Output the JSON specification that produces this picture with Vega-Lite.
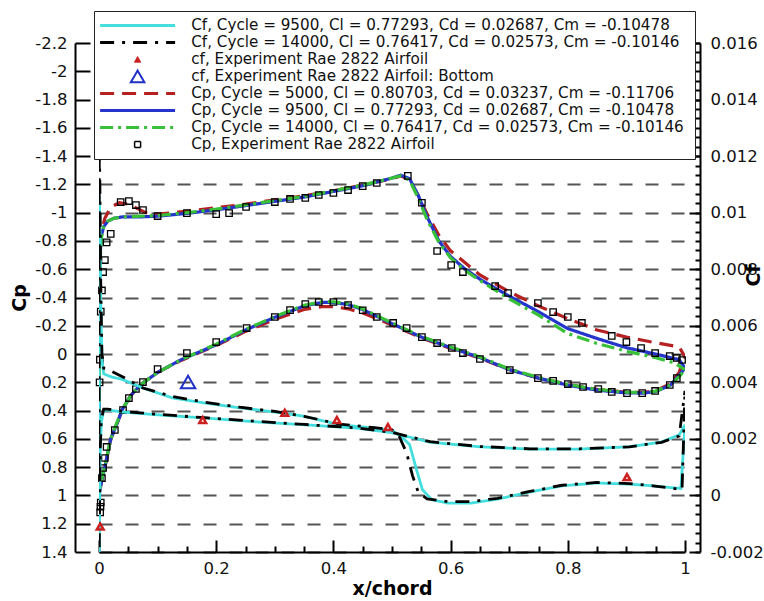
{
  "$schema": "https://vega.github.io/schema/vega-lite/v6.json",
  "width": 586,
  "height": 509,
  "autosize": {"type": "none"},
  "padding": {"left": 99, "top": 43, "right": 79, "bottom": 49},
  "background": "white",
  "config": {
    "font": "DejaVu Sans",
    "view": {"stroke": null},
    "axis": {
      "domainColor": "#000", "domainWidth": 2, "tickColor": "#000", "tickWidth": 2,
      "labelColor": "#111", "labelFont": "DejaVu Sans", "labelFontSize": 16.5,
      "titleFont": "DejaVu Sans", "titleFontSize": 19, "titleFontWeight": "bold", "titleColor": "#000",
      "grid": false, "labelOverlap": false, "labelFlush": false, "labelBound": false
    },
    "legend": {
      "orient": "none", "legendX": -5, "legendY": -32, "direction": "vertical", "columns": 1,
      "padding": 6, "fillColor": "#ffffff", "strokeColor": "#222222",
      "labelFont": "DejaVu Sans", "labelFontSize": 15.2, "labelColor": "#111", "labelLimit": 700,
      "labelOffset": 46, "symbolSize": 5625, "symbolStrokeWidth": 3, "symbolOffset": 30,
      "rowPadding": 0, "clipHeight": 16.8, "symbolOpacity": 1
    }
  },
  "datasets": {
    "cpl": [
      {"s":"cp5000","u":"U","x":0,"v":1.1},{"s":"cp5000","u":"U","x":0.0005,"v":0.3},{"s":"cp5000","u":"U","x":0.001,"v":-0.35},{"s":"cp5000","u":"U","x":0.002,"v":-0.72},{"s":"cp5000","u":"U","x":0.005,"v":-0.88},{"s":"cp5000","u":"U","x":0.01,"v":-0.96},{"s":"cp5000","u":"U","x":0.02,"v":-1.04},{"s":"cp5000","u":"U","x":0.035,"v":-1.07},{"s":"cp5000","u":"U","x":0.05,"v":-1.06},{"s":"cp5000","u":"U","x":0.065,"v":-1.03},{"s":"cp5000","u":"U","x":0.08,"v":-1.0},{"s":"cp5000","u":"U","x":0.1,"v":-0.99},{"s":"cp5000","u":"U","x":0.15,"v":-1.01},{"s":"cp5000","u":"U","x":0.2,"v":-1.035},{"s":"cp5000","u":"U","x":0.25,"v":-1.06},{"s":"cp5000","u":"U","x":0.3,"v":-1.09},{"s":"cp5000","u":"U","x":0.35,"v":-1.12},{"s":"cp5000","u":"U","x":0.4,"v":-1.155},{"s":"cp5000","u":"U","x":0.45,"v":-1.195},{"s":"cp5000","u":"U","x":0.5,"v":-1.24},{"s":"cp5000","u":"U","x":0.515,"v":-1.26},{"s":"cp5000","u":"U","x":0.53,"v":-1.23},{"s":"cp5000","u":"U","x":0.545,"v":-1.12},{"s":"cp5000","u":"U","x":0.56,"v":-0.99},{"s":"cp5000","u":"U","x":0.58,"v":-0.84},{"s":"cp5000","u":"U","x":0.6,"v":-0.73},{"s":"cp5000","u":"U","x":0.65,"v":-0.56},{"s":"cp5000","u":"U","x":0.7,"v":-0.44},{"s":"cp5000","u":"U","x":0.75,"v":-0.34},{"s":"cp5000","u":"U","x":0.8,"v":-0.25},{"s":"cp5000","u":"U","x":0.85,"v":-0.17},{"s":"cp5000","u":"U","x":0.9,"v":-0.12},{"s":"cp5000","u":"U","x":0.95,"v":-0.08},{"s":"cp5000","u":"U","x":0.99,"v":-0.05},{"s":"cp5000","u":"U","x":1.0,"v":0.02},
      {"s":"cp5000","u":"L","x":0,"v":1.1},{"s":"cp5000","u":"L","x":0.001,"v":0.99},{"s":"cp5000","u":"L","x":0.003,"v":0.93},{"s":"cp5000","u":"L","x":0.006,"v":0.87},{"s":"cp5000","u":"L","x":0.01,"v":0.8},{"s":"cp5000","u":"L","x":0.02,"v":0.6},{"s":"cp5000","u":"L","x":0.03,"v":0.5},{"s":"cp5000","u":"L","x":0.04,"v":0.39},{"s":"cp5000","u":"L","x":0.055,"v":0.29},{"s":"cp5000","u":"L","x":0.07,"v":0.22},{"s":"cp5000","u":"L","x":0.1,"v":0.13},{"s":"cp5000","u":"L","x":0.14,"v":0.045},{"s":"cp5000","u":"L","x":0.2,"v":-0.06},{"s":"cp5000","u":"L","x":0.25,"v":-0.16},{"s":"cp5000","u":"L","x":0.3,"v":-0.245},{"s":"cp5000","u":"L","x":0.35,"v":-0.315},{"s":"cp5000","u":"L","x":0.38,"v":-0.335},{"s":"cp5000","u":"L","x":0.4,"v":-0.335},{"s":"cp5000","u":"L","x":0.425,"v":-0.32},{"s":"cp5000","u":"L","x":0.45,"v":-0.29},{"s":"cp5000","u":"L","x":0.475,"v":-0.25},{"s":"cp5000","u":"L","x":0.5,"v":-0.205},{"s":"cp5000","u":"L","x":0.55,"v":-0.115},{"s":"cp5000","u":"L","x":0.6,"v":-0.04},{"s":"cp5000","u":"L","x":0.65,"v":0.03},{"s":"cp5000","u":"L","x":0.7,"v":0.11},{"s":"cp5000","u":"L","x":0.75,"v":0.17},{"s":"cp5000","u":"L","x":0.8,"v":0.215},{"s":"cp5000","u":"L","x":0.85,"v":0.25},{"s":"cp5000","u":"L","x":0.9,"v":0.27},{"s":"cp5000","u":"L","x":0.93,"v":0.27},{"s":"cp5000","u":"L","x":0.95,"v":0.26},{"s":"cp5000","u":"L","x":0.975,"v":0.21},{"s":"cp5000","u":"L","x":0.99,"v":0.13},{"s":"cp5000","u":"L","x":1.0,"v":0.02},
      {"s":"cp9500","u":"U","x":0,"v":1.08},{"s":"cp9500","u":"U","x":0.0005,"v":0.3},{"s":"cp9500","u":"U","x":0.001,"v":-0.35},{"s":"cp9500","u":"U","x":0.002,"v":-0.7},{"s":"cp9500","u":"U","x":0.004,"v":-0.84},{"s":"cp9500","u":"U","x":0.008,"v":-0.9},{"s":"cp9500","u":"U","x":0.015,"v":-0.94},{"s":"cp9500","u":"U","x":0.025,"v":-0.96},{"s":"cp9500","u":"U","x":0.04,"v":-0.97},{"s":"cp9500","u":"U","x":0.07,"v":-0.97},{"s":"cp9500","u":"U","x":0.1,"v":-0.975},{"s":"cp9500","u":"U","x":0.15,"v":-0.995},{"s":"cp9500","u":"U","x":0.2,"v":-1.02},{"s":"cp9500","u":"U","x":0.25,"v":-1.05},{"s":"cp9500","u":"U","x":0.3,"v":-1.08},{"s":"cp9500","u":"U","x":0.35,"v":-1.11},{"s":"cp9500","u":"U","x":0.4,"v":-1.15},{"s":"cp9500","u":"U","x":0.45,"v":-1.19},{"s":"cp9500","u":"U","x":0.5,"v":-1.245},{"s":"cp9500","u":"U","x":0.515,"v":-1.265},{"s":"cp9500","u":"U","x":0.53,"v":-1.24},{"s":"cp9500","u":"U","x":0.545,"v":-1.12},{"s":"cp9500","u":"U","x":0.56,"v":-0.97},{"s":"cp9500","u":"U","x":0.58,"v":-0.8},{"s":"cp9500","u":"U","x":0.6,"v":-0.69},{"s":"cp9500","u":"U","x":0.625,"v":-0.6},{"s":"cp9500","u":"U","x":0.65,"v":-0.53},{"s":"cp9500","u":"U","x":0.7,"v":-0.41},{"s":"cp9500","u":"U","x":0.75,"v":-0.3},{"s":"cp9500","u":"U","x":0.8,"v":-0.18},{"s":"cp9500","u":"U","x":0.85,"v":-0.11},{"s":"cp9500","u":"U","x":0.9,"v":-0.045},{"s":"cp9500","u":"U","x":0.95,"v":0.0},{"s":"cp9500","u":"U","x":0.99,"v":0.04},{"s":"cp9500","u":"U","x":1.0,"v":0.1},
      {"s":"cp9500","u":"L","x":0,"v":1.08},{"s":"cp9500","u":"L","x":0.001,"v":0.98},{"s":"cp9500","u":"L","x":0.003,"v":0.93},{"s":"cp9500","u":"L","x":0.006,"v":0.87},{"s":"cp9500","u":"L","x":0.01,"v":0.8},{"s":"cp9500","u":"L","x":0.02,"v":0.6},{"s":"cp9500","u":"L","x":0.03,"v":0.5},{"s":"cp9500","u":"L","x":0.04,"v":0.39},{"s":"cp9500","u":"L","x":0.055,"v":0.29},{"s":"cp9500","u":"L","x":0.07,"v":0.22},{"s":"cp9500","u":"L","x":0.1,"v":0.13},{"s":"cp9500","u":"L","x":0.14,"v":0.04},{"s":"cp9500","u":"L","x":0.2,"v":-0.065},{"s":"cp9500","u":"L","x":0.25,"v":-0.17},{"s":"cp9500","u":"L","x":0.3,"v":-0.26},{"s":"cp9500","u":"L","x":0.35,"v":-0.34},{"s":"cp9500","u":"L","x":0.38,"v":-0.365},{"s":"cp9500","u":"L","x":0.4,"v":-0.365},{"s":"cp9500","u":"L","x":0.425,"v":-0.35},{"s":"cp9500","u":"L","x":0.45,"v":-0.315},{"s":"cp9500","u":"L","x":0.475,"v":-0.265},{"s":"cp9500","u":"L","x":0.5,"v":-0.215},{"s":"cp9500","u":"L","x":0.55,"v":-0.12},{"s":"cp9500","u":"L","x":0.6,"v":-0.045},{"s":"cp9500","u":"L","x":0.65,"v":0.025},{"s":"cp9500","u":"L","x":0.7,"v":0.11},{"s":"cp9500","u":"L","x":0.75,"v":0.17},{"s":"cp9500","u":"L","x":0.8,"v":0.22},{"s":"cp9500","u":"L","x":0.85,"v":0.255},{"s":"cp9500","u":"L","x":0.9,"v":0.275},{"s":"cp9500","u":"L","x":0.93,"v":0.276},{"s":"cp9500","u":"L","x":0.95,"v":0.265},{"s":"cp9500","u":"L","x":0.975,"v":0.22},{"s":"cp9500","u":"L","x":0.99,"v":0.15},{"s":"cp9500","u":"L","x":1.0,"v":0.1},
      {"s":"cp14000","u":"U","x":0,"v":1.08},{"s":"cp14000","u":"U","x":0.0005,"v":0.3},{"s":"cp14000","u":"U","x":0.001,"v":-0.3},{"s":"cp14000","u":"U","x":0.002,"v":-0.66},{"s":"cp14000","u":"U","x":0.004,"v":-0.82},{"s":"cp14000","u":"U","x":0.008,"v":-0.9},{"s":"cp14000","u":"U","x":0.015,"v":-0.94},{"s":"cp14000","u":"U","x":0.025,"v":-0.96},{"s":"cp14000","u":"U","x":0.04,"v":-0.97},{"s":"cp14000","u":"U","x":0.07,"v":-0.975},{"s":"cp14000","u":"U","x":0.1,"v":-0.98},{"s":"cp14000","u":"U","x":0.15,"v":-1.0},{"s":"cp14000","u":"U","x":0.2,"v":-1.025},{"s":"cp14000","u":"U","x":0.25,"v":-1.055},{"s":"cp14000","u":"U","x":0.3,"v":-1.085},{"s":"cp14000","u":"U","x":0.35,"v":-1.115},{"s":"cp14000","u":"U","x":0.4,"v":-1.155},{"s":"cp14000","u":"U","x":0.45,"v":-1.195},{"s":"cp14000","u":"U","x":0.5,"v":-1.245},{"s":"cp14000","u":"U","x":0.515,"v":-1.26},{"s":"cp14000","u":"U","x":0.53,"v":-1.23},{"s":"cp14000","u":"U","x":0.545,"v":-1.1},{"s":"cp14000","u":"U","x":0.56,"v":-0.95},{"s":"cp14000","u":"U","x":0.58,"v":-0.79},{"s":"cp14000","u":"U","x":0.6,"v":-0.68},{"s":"cp14000","u":"U","x":0.625,"v":-0.59},{"s":"cp14000","u":"U","x":0.65,"v":-0.52},{"s":"cp14000","u":"U","x":0.7,"v":-0.39},{"s":"cp14000","u":"U","x":0.75,"v":-0.275},{"s":"cp14000","u":"U","x":0.8,"v":-0.145},{"s":"cp14000","u":"U","x":0.85,"v":-0.075},{"s":"cp14000","u":"U","x":0.9,"v":-0.02},{"s":"cp14000","u":"U","x":0.95,"v":0.025},{"s":"cp14000","u":"U","x":0.98,"v":0.06},{"s":"cp14000","u":"U","x":1.0,"v":0.11},
      {"s":"cp14000","u":"L","x":0,"v":1.08},{"s":"cp14000","u":"L","x":0.001,"v":0.97},{"s":"cp14000","u":"L","x":0.003,"v":0.92},{"s":"cp14000","u":"L","x":0.006,"v":0.86},{"s":"cp14000","u":"L","x":0.01,"v":0.79},{"s":"cp14000","u":"L","x":0.02,"v":0.6},{"s":"cp14000","u":"L","x":0.03,"v":0.49},{"s":"cp14000","u":"L","x":0.04,"v":0.39},{"s":"cp14000","u":"L","x":0.055,"v":0.29},{"s":"cp14000","u":"L","x":0.07,"v":0.22},{"s":"cp14000","u":"L","x":0.1,"v":0.13},{"s":"cp14000","u":"L","x":0.14,"v":0.04},{"s":"cp14000","u":"L","x":0.2,"v":-0.07},{"s":"cp14000","u":"L","x":0.25,"v":-0.175},{"s":"cp14000","u":"L","x":0.3,"v":-0.265},{"s":"cp14000","u":"L","x":0.35,"v":-0.345},{"s":"cp14000","u":"L","x":0.38,"v":-0.37},{"s":"cp14000","u":"L","x":0.4,"v":-0.37},{"s":"cp14000","u":"L","x":0.425,"v":-0.355},{"s":"cp14000","u":"L","x":0.45,"v":-0.32},{"s":"cp14000","u":"L","x":0.475,"v":-0.27},{"s":"cp14000","u":"L","x":0.5,"v":-0.22},{"s":"cp14000","u":"L","x":0.55,"v":-0.125},{"s":"cp14000","u":"L","x":0.6,"v":-0.05},{"s":"cp14000","u":"L","x":0.65,"v":0.02},{"s":"cp14000","u":"L","x":0.7,"v":0.105},{"s":"cp14000","u":"L","x":0.75,"v":0.165},{"s":"cp14000","u":"L","x":0.8,"v":0.215},{"s":"cp14000","u":"L","x":0.85,"v":0.25},{"s":"cp14000","u":"L","x":0.9,"v":0.27},{"s":"cp14000","u":"L","x":0.93,"v":0.272},{"s":"cp14000","u":"L","x":0.95,"v":0.262},{"s":"cp14000","u":"L","x":0.975,"v":0.22},{"s":"cp14000","u":"L","x":0.99,"v":0.16},{"s":"cp14000","u":"L","x":1.0,"v":0.11}
    ],
    "cpx": [
      {"s":"cpexp","x":0.001,"v":0.2},{"s":"cpexp","x":0.0015,"v":0.04},{"s":"cpexp","x":0.003,"v":-0.3},{"s":"cpexp","x":0.005,"v":-0.45},{"s":"cpexp","x":0.007,"v":-0.58},{"s":"cpexp","x":0.01,"v":-0.665},{"s":"cpexp","x":0.013,"v":-0.79},{"s":"cpexp","x":0.02,"v":-0.85},{"s":"cpexp","x":0.037,"v":-1.075},{"s":"cpexp","x":0.051,"v":-1.082},{"s":"cpexp","x":0.063,"v":-1.054},{"s":"cpexp","x":0.075,"v":-1.019},{"s":"cpexp","x":0.1,"v":-0.976},{"s":"cpexp","x":0.15,"v":-0.997},{"s":"cpexp","x":0.2,"v":-0.99},{"s":"cpexp","x":0.222,"v":-0.997},{"s":"cpexp","x":0.251,"v":-1.04},{"s":"cpexp","x":0.3,"v":-1.075},{"s":"cpexp","x":0.326,"v":-1.097},{"s":"cpexp","x":0.352,"v":-1.104},{"s":"cpexp","x":0.375,"v":-1.125},{"s":"cpexp","x":0.4,"v":-1.139},{"s":"cpexp","x":0.425,"v":-1.16},{"s":"cpexp","x":0.45,"v":-1.188},{"s":"cpexp","x":0.474,"v":-1.21},{"s":"cpexp","x":0.527,"v":-1.26},{"s":"cpexp","x":0.551,"v":-1.07},{"s":"cpexp","x":0.577,"v":-0.729},{"s":"cpexp","x":0.601,"v":-0.63},{"s":"cpexp","x":0.621,"v":-0.58},{"s":"cpexp","x":0.676,"v":-0.481},{"s":"cpexp","x":0.698,"v":-0.432},{"s":"cpexp","x":0.749,"v":-0.361},{"s":"cpexp","x":0.775,"v":-0.297},{"s":"cpexp","x":0.8,"v":-0.262},{"s":"cpexp","x":0.824,"v":-0.22},{"s":"cpexp","x":0.875,"v":-0.128},{"s":"cpexp","x":0.9,"v":-0.085},{"s":"cpexp","x":0.925,"v":-0.043},{"s":"cpexp","x":0.949,"v":-0.007},{"s":"cpexp","x":0.974,"v":0.014},{"s":"cpexp","x":0.986,"v":0.028},{"s":"cpexp","x":0.995,"v":0.042},
      {"s":"cpexp","x":0.002,"v":1.12},{"s":"cpexp","x":0.0025,"v":1.08},{"s":"cpexp","x":0.003,"v":1.05},{"s":"cpexp","x":0.005,"v":0.877},{"s":"cpexp","x":0.007,"v":0.806},{"s":"cpexp","x":0.01,"v":0.735},{"s":"cpexp","x":0.013,"v":0.657},{"s":"cpexp","x":0.027,"v":0.537},{"s":"cpexp","x":0.041,"v":0.396},{"s":"cpexp","x":0.051,"v":0.311},{"s":"cpexp","x":0.063,"v":0.247},{"s":"cpexp","x":0.075,"v":0.198},{"s":"cpexp","x":0.1,"v":0.106},{"s":"cpexp","x":0.15,"v":-0.007},{"s":"cpexp","x":0.2,"v":-0.085},{"s":"cpexp","x":0.252,"v":-0.184},{"s":"cpexp","x":0.3,"v":-0.262},{"s":"cpexp","x":0.326,"v":-0.311},{"s":"cpexp","x":0.352,"v":-0.354},{"s":"cpexp","x":0.375,"v":-0.368},{"s":"cpexp","x":0.4,"v":-0.368},{"s":"cpexp","x":0.425,"v":-0.347},{"s":"cpexp","x":0.45,"v":-0.31},{"s":"cpexp","x":0.474,"v":-0.262},{"s":"cpexp","x":0.502,"v":-0.22},{"s":"cpexp","x":0.525,"v":-0.184},{"s":"cpexp","x":0.551,"v":-0.12},{"s":"cpexp","x":0.577,"v":-0.078},{"s":"cpexp","x":0.602,"v":-0.043},{"s":"cpexp","x":0.621,"v":-0.007},{"s":"cpexp","x":0.65,"v":0.035},{"s":"cpexp","x":0.701,"v":0.113},{"s":"cpexp","x":0.749,"v":0.17},{"s":"cpexp","x":0.775,"v":0.19},{"s":"cpexp","x":0.8,"v":0.212},{"s":"cpexp","x":0.826,"v":0.233},{"s":"cpexp","x":0.852,"v":0.247},{"s":"cpexp","x":0.875,"v":0.268},{"s":"cpexp","x":0.901,"v":0.276},{"s":"cpexp","x":0.927,"v":0.276},{"s":"cpexp","x":0.949,"v":0.261},{"s":"cpexp","x":0.974,"v":0.219},{"s":"cpexp","x":0.986,"v":0.17}
    ],
    "cfl": [
      {"s":"cf9500","u":"A","x":0,"v":0.001},{"s":"cf9500","u":"A","x":0.0005,"v":0.0106},{"s":"cf9500","u":"A","x":0.0015,"v":0.0098},{"s":"cf9500","u":"A","x":0.003,"v":0.0068},{"s":"cf9500","u":"A","x":0.005,"v":0.0048},{"s":"cf9500","u":"A","x":0.008,"v":0.0043},{"s":"cf9500","u":"A","x":0.02,"v":0.0042},{"s":"cf9500","u":"A","x":0.04,"v":0.0041},{"s":"cf9500","u":"A","x":0.075,"v":0.0038},{"s":"cf9500","u":"A","x":0.125,"v":0.00345},{"s":"cf9500","u":"A","x":0.18,"v":0.00327},{"s":"cf9500","u":"A","x":0.24,"v":0.0031},{"s":"cf9500","u":"A","x":0.3,"v":0.00295},{"s":"cf9500","u":"A","x":0.35,"v":0.0028},{"s":"cf9500","u":"A","x":0.41,"v":0.0025},{"s":"cf9500","u":"A","x":0.47,"v":0.00238},{"s":"cf9500","u":"A","x":0.5,"v":0.0023},{"s":"cf9500","u":"A","x":0.515,"v":0.0021},{"s":"cf9500","u":"A","x":0.53,"v":0.0018},{"s":"cf9500","u":"A","x":0.542,"v":0.0009},{"s":"cf9500","u":"A","x":0.552,"v":0.0002},{"s":"cf9500","u":"A","x":0.568,"v":-0.00015},{"s":"cf9500","u":"A","x":0.595,"v":-0.00027},{"s":"cf9500","u":"A","x":0.635,"v":-0.00027},{"s":"cf9500","u":"A","x":0.68,"v":-0.00013},{"s":"cf9500","u":"A","x":0.735,"v":0.00012},{"s":"cf9500","u":"A","x":0.79,"v":0.00034},{"s":"cf9500","u":"A","x":0.85,"v":0.00044},{"s":"cf9500","u":"A","x":0.905,"v":0.0004},{"s":"cf9500","u":"A","x":0.945,"v":0.00034},{"s":"cf9500","u":"A","x":0.98,"v":0.00027},{"s":"cf9500","u":"A","x":0.993,"v":0.00025},{"s":"cf9500","u":"A","x":1.0,"v":0.0025},
      {"s":"cf9500","u":"B","x":0,"v":-0.003},{"s":"cf9500","u":"B","x":0.001,"v":-0.0005},{"s":"cf9500","u":"B","x":0.002,"v":0.0015},{"s":"cf9500","u":"B","x":0.004,"v":0.0026},{"s":"cf9500","u":"B","x":0.008,"v":0.003},{"s":"cf9500","u":"B","x":0.015,"v":0.00302},{"s":"cf9500","u":"B","x":0.04,"v":0.00295},{"s":"cf9500","u":"B","x":0.1,"v":0.00285},{"s":"cf9500","u":"B","x":0.18,"v":0.00274},{"s":"cf9500","u":"B","x":0.27,"v":0.0026},{"s":"cf9500","u":"B","x":0.35,"v":0.0025},{"s":"cf9500","u":"B","x":0.44,"v":0.00238},{"s":"cf9500","u":"B","x":0.5,"v":0.00222},{"s":"cf9500","u":"B","x":0.565,"v":0.00188},{"s":"cf9500","u":"B","x":0.65,"v":0.00172},{"s":"cf9500","u":"B","x":0.735,"v":0.00164},{"s":"cf9500","u":"B","x":0.82,"v":0.00164},{"s":"cf9500","u":"B","x":0.905,"v":0.00172},{"s":"cf9500","u":"B","x":0.96,"v":0.00189},{"s":"cf9500","u":"B","x":0.99,"v":0.00214},{"s":"cf9500","u":"B","x":1.0,"v":0.0025},
      {"s":"cf14000","u":"A","x":0,"v":0.001},{"s":"cf14000","u":"A","x":0.0005,"v":0.0125},{"s":"cf14000","u":"A","x":0.0015,"v":0.011},{"s":"cf14000","u":"A","x":0.003,"v":0.0075},{"s":"cf14000","u":"A","x":0.005,"v":0.005},{"s":"cf14000","u":"A","x":0.008,"v":0.0045},{"s":"cf14000","u":"A","x":0.02,"v":0.0044},{"s":"cf14000","u":"A","x":0.04,"v":0.0042},{"s":"cf14000","u":"A","x":0.075,"v":0.0038},{"s":"cf14000","u":"A","x":0.125,"v":0.0035},{"s":"cf14000","u":"A","x":0.18,"v":0.0033},{"s":"cf14000","u":"A","x":0.24,"v":0.00312},{"s":"cf14000","u":"A","x":0.3,"v":0.00297},{"s":"cf14000","u":"A","x":0.35,"v":0.0028},{"s":"cf14000","u":"A","x":0.41,"v":0.00252},{"s":"cf14000","u":"A","x":0.47,"v":0.0024},{"s":"cf14000","u":"A","x":0.5,"v":0.00232},{"s":"cf14000","u":"A","x":0.512,"v":0.0021},{"s":"cf14000","u":"A","x":0.525,"v":0.0015},{"s":"cf14000","u":"A","x":0.535,"v":0.0007},{"s":"cf14000","u":"A","x":0.545,"v":0.0001},{"s":"cf14000","u":"A","x":0.56,"v":-0.00012},{"s":"cf14000","u":"A","x":0.595,"v":-0.00022},{"s":"cf14000","u":"A","x":0.635,"v":-0.00022},{"s":"cf14000","u":"A","x":0.68,"v":-0.0001},{"s":"cf14000","u":"A","x":0.735,"v":0.00014},{"s":"cf14000","u":"A","x":0.79,"v":0.00036},{"s":"cf14000","u":"A","x":0.85,"v":0.00046},{"s":"cf14000","u":"A","x":0.905,"v":0.00042},{"s":"cf14000","u":"A","x":0.945,"v":0.00034},{"s":"cf14000","u":"A","x":0.98,"v":0.00025},{"s":"cf14000","u":"A","x":0.995,"v":0.0002},{"s":"cf14000","u":"A","x":1.0,"v":0.0037},
      {"s":"cf14000","u":"B","x":0,"v":-0.003},{"s":"cf14000","u":"B","x":0.001,"v":-0.0004},{"s":"cf14000","u":"B","x":0.002,"v":0.0016},{"s":"cf14000","u":"B","x":0.004,"v":0.0027},{"s":"cf14000","u":"B","x":0.008,"v":0.00305},{"s":"cf14000","u":"B","x":0.015,"v":0.00305},{"s":"cf14000","u":"B","x":0.04,"v":0.00297},{"s":"cf14000","u":"B","x":0.1,"v":0.00287},{"s":"cf14000","u":"B","x":0.18,"v":0.00275},{"s":"cf14000","u":"B","x":0.27,"v":0.00262},{"s":"cf14000","u":"B","x":0.35,"v":0.00251},{"s":"cf14000","u":"B","x":0.44,"v":0.00239},{"s":"cf14000","u":"B","x":0.5,"v":0.00223},{"s":"cf14000","u":"B","x":0.565,"v":0.0019},{"s":"cf14000","u":"B","x":0.65,"v":0.00173},{"s":"cf14000","u":"B","x":0.735,"v":0.00165},{"s":"cf14000","u":"B","x":0.82,"v":0.00165},{"s":"cf14000","u":"B","x":0.905,"v":0.00172},{"s":"cf14000","u":"B","x":0.96,"v":0.00188},{"s":"cf14000","u":"B","x":0.99,"v":0.0021},{"s":"cf14000","u":"B","x":1.0,"v":0.0037}
    ],
    "cfx": [
      {"s":"cfexp","x":0.002,"v":-0.0011},{"s":"cfexp","x":0.177,"v":0.00267},{"s":"cfexp","x":0.317,"v":0.00292},{"s":"cfexp","x":0.406,"v":0.00267},{"s":"cfexp","x":0.493,"v":0.00242},{"s":"cfexp","x":0.901,"v":0.00065}
    ],
    "cfb": [
      {"s":"cfexpb","x":0.152,"v":0.00401}
    ]
  },
  "layer": [
    {
      "layer": [
        {
          "data": {"name": "cpl"},
          "mark": {"type": "line", "clip": true, "strokeWidth": 3.2},
          "encoding": {
            "x": {"field": "x", "type": "quantitative", "scale": {"domain": [0, 1], "nice": false, "zero": false},
              "axis": {"orient": "bottom", "values": [0, 0.2, 0.4, 0.6, 0.8, 1], "tickCount": 100, "labelExpr": "format(datum.value, '~g')", "labelOverlap": false, "tickSize": -12, "labelPadding": 20, "title": "x/chord", "titlePadding": 3, "grid": false}},
            "y": {"field": "v", "type": "quantitative", "scale": {"domain": [-2.2, 1.4], "reverse": true, "nice": false, "zero": false},
              "axis": {"orient": "left", "offset": 24, "values": [-2.2, -2, -1.8, -1.6, -1.4, -1.2, -1, -0.8, -0.6, -0.4, -0.2, 0, 0.2, 0.4, 0.6, 0.8, 1, 1.2, 1.4], "tickCount": 100, "labelExpr": "datum.value < 0 ? '-' + format(-datum.value, '~g') : format(datum.value, '~g')", "labelOverlap": false, "tickSize": -15, "labelPadding": 23, "grid": true, "gridDash": [13, 13], "gridColor": "#555555", "gridWidth": 2, "title": "Cp", "titlePadding": 5}},
            "color": {"field": "s", "type": "nominal",
              "scale": {"domain": ["cf9500", "cf14000", "cfexp", "cfexpb", "cp5000", "cp9500", "cp14000", "cpexp"], "range": ["#45dede", "#000000", "#cc2020", "#2030c8", "#b52020", "#2535cc", "#38c038", "#000000"]},
              "legend": {"title": null,
                "labelExpr": "datum.value == 'cf9500' ? 'Cf,  Cycle = 9500, Cl = 0.77293, Cd = 0.02687, Cm = -0.10478' : datum.value == 'cf14000' ? 'Cf,  Cycle = 14000, Cl = 0.76417, Cd = 0.02573, Cm = -0.10146' : datum.value == 'cfexp' ? 'cf,  Experiment Rae 2822 Airfoil' : datum.value == 'cfexpb' ? 'cf,  Experiment Rae 2822 Airfoil: Bottom' : datum.value == 'cp5000' ? 'Cp,  Cycle = 5000, Cl = 0.80703, Cd = 0.03237, Cm = -0.11706' : datum.value == 'cp9500' ? 'Cp,  Cycle = 9500, Cl = 0.77293, Cd = 0.02687, Cm = -0.10478' : datum.value == 'cp14000' ? 'Cp,  Cycle = 14000, Cl = 0.76417, Cd = 0.02573, Cm = -0.10146' : 'Cp,  Experiment Rae 2822 Airfoil'",
                "encoding": {"symbols": {
                  "fill": {"value": {"expr": "datum.value == 'cfexp' ? '#cc2020' : 'transparent'"}},
                  "strokeWidth": {"value": {"expr": "datum.value == 'cpexp' ? 1.5 : datum.value == 'cfexpb' ? 2 : datum.value == 'cfexp' ? 1 : 3"}}
                }}
              }},
            "strokeDash": {"field": "s", "type": "nominal",
              "scale": {"domain": ["cf9500", "cf14000", "cfexp", "cfexpb", "cp5000", "cp9500", "cp14000", "cpexp"], "range": [[1, 0], [14, 8, 3, 8], [1, 0], [1, 0], [14, 8], [1, 0], [13, 5, 3, 5], [1, 0]]}},
            "detail": {"field": "u"}
          }
        },
        {
          "data": {"name": "cpx"},
          "mark": {"type": "point", "filled": false, "size": 6400, "strokeWidth": 1.3, "opacity": 1},
          "encoding": {
            "x": {"field": "x", "type": "quantitative", "scale": {"domain": [0, 1], "nice": false, "zero": false}},
            "y": {"field": "v", "type": "quantitative", "scale": {"domain": [-2.2, 1.4], "reverse": true, "nice": false, "zero": false}},
            "color": {"field": "s", "type": "nominal",
              "scale": {"domain": ["cf9500", "cf14000", "cfexp", "cfexpb", "cp5000", "cp9500", "cp14000", "cpexp"], "range": ["#45dede", "#000000", "#cc2020", "#2030c8", "#b52020", "#2535cc", "#38c038", "#000000"]}},
            "shape": {"field": "s", "type": "nominal",
              "scale": {"domain": ["cf9500", "cf14000", "cfexp", "cfexpb", "cp5000", "cp9500", "cp14000", "cpexp"], "range": ["M-1,0H1", "M-1,0H1", "M-0.085,0.075L0,-0.075L0.085,0.075Z", "M-0.18,0.155L0,-0.155L0.18,0.155Z", "M-1,0H1", "M-1,0H1", "M-1,0H1", "M-0.08,-0.08H0.08V0.08H-0.08Z"]}}
          }
        }
      ]
    },
    {
      "layer": [
        {
          "data": {"name": "cfl"},
          "mark": {"type": "line", "clip": true, "strokeWidth": 2.8},
          "encoding": {
            "x": {"field": "x", "type": "quantitative", "scale": {"domain": [0, 1], "nice": false, "zero": false},
              "axis": {"orient": "bottom", "values": [0.05, 0.1, 0.15, 0.25, 0.3, 0.35, 0.45, 0.5, 0.55, 0.65, 0.7, 0.75, 0.85, 0.9, 0.95], "tickCount": 100, "labels": false, "domain": false, "tickSize": -6, "tickWidth": 2, "title": null, "grid": false}},
            "y": {"field": "v", "type": "quantitative", "scale": {"domain": [-0.002, 0.016], "nice": false, "zero": false},
              "axis": {"orient": "right", "offset": 15, "values": [-0.002, 0, 0.002, 0.004, 0.006, 0.008, 0.01, 0.012, 0.014, 0.016], "tickCount": 100, "labelExpr": "datum.value < 0 ? '-' + format(-datum.value, '~g') : format(datum.value, '~g')", "labelOverlap": false, "tickSize": -11, "labelPadding": 21, "grid": false, "title": "Cf", "titleAngle": 270, "titleX": 53, "titleY": 232, "titleBaseline": "middle"}},
            "color": {"field": "s", "type": "nominal",
              "scale": {"domain": ["cf9500", "cf14000", "cfexp", "cfexpb", "cp5000", "cp9500", "cp14000", "cpexp"], "range": ["#45dede", "#000000", "#cc2020", "#2030c8", "#b52020", "#2535cc", "#38c038", "#000000"]}},
            "strokeDash": {"field": "s", "type": "nominal",
              "scale": {"domain": ["cf9500", "cf14000", "cfexp", "cfexpb", "cp5000", "cp9500", "cp14000", "cpexp"], "range": [[1, 0], [14, 8, 3, 8], [1, 0], [1, 0], [14, 8], [1, 0], [13, 5, 3, 5], [1, 0]]}},
            "detail": {"field": "u"}
          }
        },
        {
          "data": {"name": "cfx"},
          "mark": {"type": "point", "filled": false, "size": 6400, "strokeWidth": 2.5, "opacity": 1},
          "encoding": {
            "x": {"field": "x", "type": "quantitative", "scale": {"domain": [0, 1], "nice": false, "zero": false}},
            "y": {"field": "v", "type": "quantitative", "scale": {"domain": [-0.002, 0.016], "nice": false, "zero": false},
              "axis": {"orient": "right", "offset": 15, "values": [-0.002, -0.0016667, -0.0013333, -0.001, -0.0006667, -0.0003333, 0, 0.0003333, 0.0006667, 0.001, 0.0013333, 0.0016667, 0.002, 0.0023333, 0.0026667, 0.003, 0.0033333, 0.0036667, 0.004, 0.0043333, 0.0046667, 0.005, 0.0053333, 0.0056667, 0.006, 0.0063333, 0.0066667, 0.007, 0.0073333, 0.0076667, 0.008, 0.0083333, 0.0086667, 0.009, 0.0093333, 0.0096667, 0.01, 0.0103333, 0.0106667, 0.011, 0.0113333, 0.0116667, 0.012, 0.0123333, 0.0126667, 0.013, 0.0133333, 0.0136667, 0.014, 0.0143333, 0.0146667, 0.015, 0.0153333, 0.0156667, 0.016], "tickCount": 200, "labels": false, "domain": false, "tickSize": -5, "tickWidth": 2, "title": null, "grid": false}},
            "color": {"field": "s", "type": "nominal",
              "scale": {"domain": ["cf9500", "cf14000", "cfexp", "cfexpb", "cp5000", "cp9500", "cp14000", "cpexp"], "range": ["#45dede", "#000000", "#cc2020", "#2030c8", "#b52020", "#2535cc", "#38c038", "#000000"]}},
            "shape": {"field": "s", "type": "nominal",
              "scale": {"domain": ["cf9500", "cf14000", "cfexp", "cfexpb", "cp5000", "cp9500", "cp14000", "cpexp"], "range": ["M-1,0H1", "M-1,0H1", "M-0.085,0.075L0,-0.075L0.085,0.075Z", "M-0.18,0.155L0,-0.155L0.18,0.155Z", "M-1,0H1", "M-1,0H1", "M-1,0H1", "M-0.08,-0.08H0.08V0.08H-0.08Z"]}}
          }
        },
        {
          "data": {"name": "cfb"},
          "mark": {"type": "point", "filled": false, "size": 6400, "strokeWidth": 2, "opacity": 1},
          "encoding": {
            "x": {"field": "x", "type": "quantitative", "scale": {"domain": [0, 1], "nice": false, "zero": false}},
            "y": {"field": "v", "type": "quantitative", "scale": {"domain": [-0.002, 0.016], "nice": false, "zero": false}, "axis": null},
            "color": {"field": "s", "type": "nominal",
              "scale": {"domain": ["cf9500", "cf14000", "cfexp", "cfexpb", "cp5000", "cp9500", "cp14000", "cpexp"], "range": ["#45dede", "#000000", "#cc2020", "#2030c8", "#b52020", "#2535cc", "#38c038", "#000000"]}},
            "shape": {"field": "s", "type": "nominal",
              "scale": {"domain": ["cf9500", "cf14000", "cfexp", "cfexpb", "cp5000", "cp9500", "cp14000", "cpexp"], "range": ["M-1,0H1", "M-1,0H1", "M-0.085,0.075L0,-0.075L0.085,0.075Z", "M-0.18,0.155L0,-0.155L0.18,0.155Z", "M-1,0H1", "M-1,0H1", "M-1,0H1", "M-0.08,-0.08H0.08V0.08H-0.08Z"]}}
          }
        }
      ],
      "resolve": {"axis": {"y": "independent"}}
    }
  ],
  "resolve": {"scale": {"y": "independent"}, "axis": {"x": "independent", "y": "independent"}}
}
